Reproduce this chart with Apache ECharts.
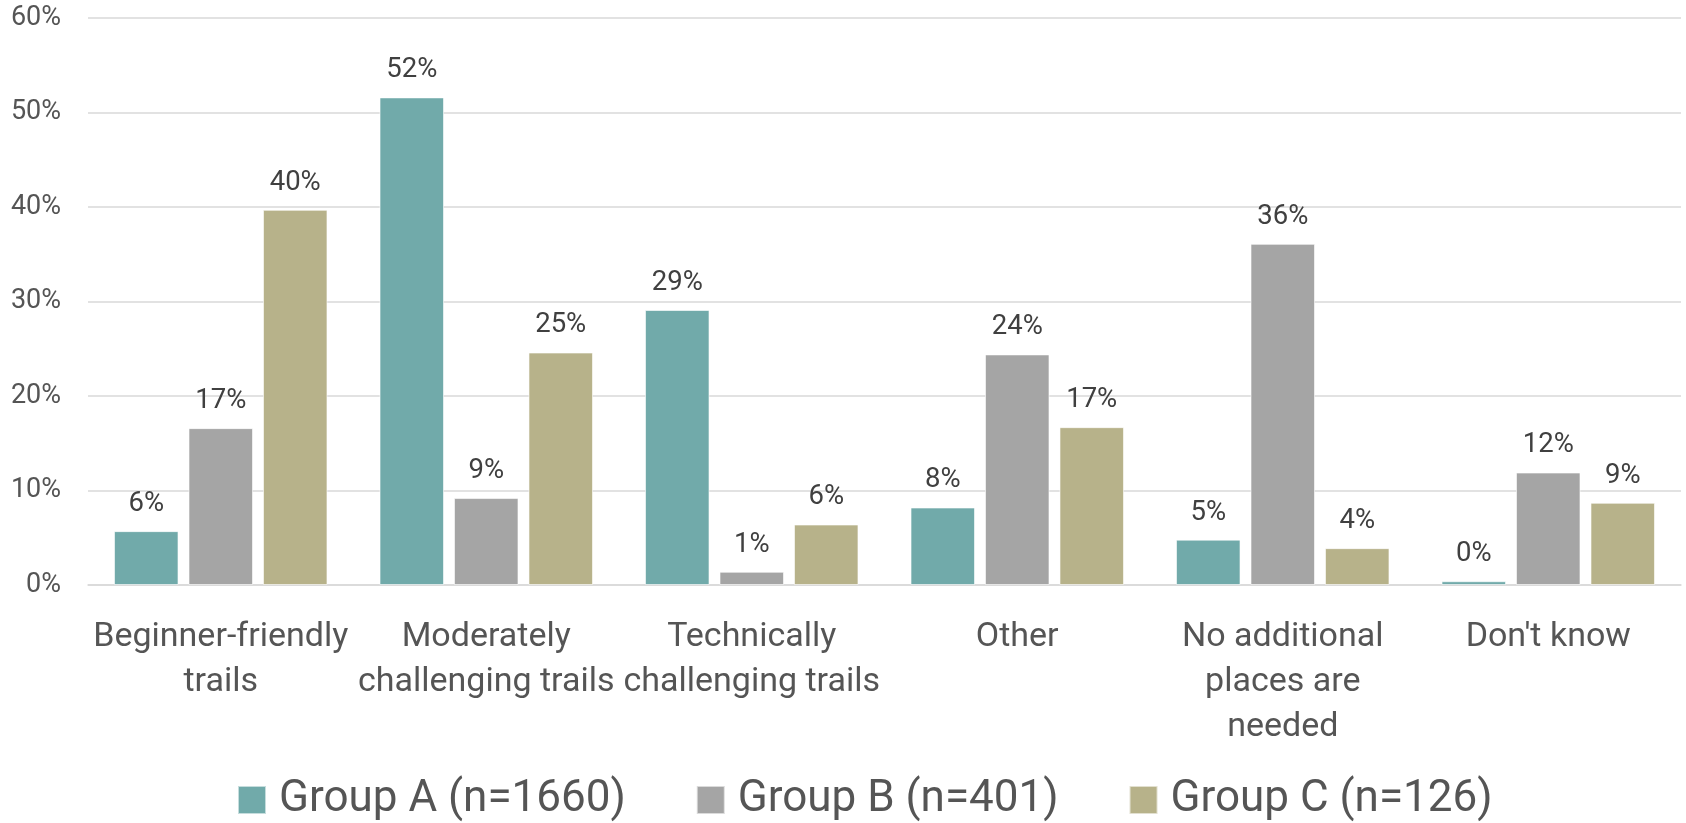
<!DOCTYPE html>
<html>
<head>
<meta charset="utf-8">
<script src="https://cdn.jsdelivr.net/npm/echarts@6/dist/echarts.min.js"></script>
<style>
html,body{margin:0;padding:0;background:#fff;}
#chart{width:1686px;height:823px;}
</style>
</head>
<body>
<div id="chart"></div>
<script>
const categories = [
  "Beginner-friendly\ntrails",
  "Moderately\nchallenging trails",
  "Technically\nchallenging trails",
  "Other",
  "No additional\nplaces are\nneeded",
  "Don't know"
];
const seriesNames = ["Group A (n=1660)", "Group B (n=401)", "Group C (n=126)"];
const groupA = [5.7, 51.6, 29.1, 8.2, 4.8, 0.4];
const groupB = [16.6, 9.2, 1.4, 24.4, 36.1, 11.9];
const groupC = [39.7, 24.6, 6.4, 16.7, 3.9, 8.7];
const yTicks = { min: 0, max: 60, interval: 10 };
const colors = ["#71AAAA", "#A5A5A5", "#B7B28A"];

const FONT = "Roboto";
const chart = echarts.init(document.getElementById('chart'), null, { renderer: 'canvas' });

function mkSeries(name, data, color) {
  return {
    name: name,
    type: 'bar',
    data: data,
    barGap: '15.5%',
    barCategoryGap: '19.6%',
    itemStyle: { color: color, borderColor: 'rgba(255,255,255,0.6)', borderWidth: 1 },
    label: {
      show: true,
      position: 'top',
      distance: 13,
      fontFamily: FONT,
      fontSize: 27.5,
      color: '#404040',
      formatter: p => Math.round(p.value) + '%'
    }
  };
}

chart.setOption({
  animation: false,
  color: colors,
  grid: { left: 88, right: 5, top: 18, bottom: 238, containLabel: false },
  legend: {
    left: 237,
    top: 778,
    padding: 0,
    itemWidth: 28,
    itemHeight: 28,
    itemGap: 70,
    icon: 'rect',
    textStyle: { fontFamily: FONT, fontSize: 44, color: '#555555', padding: [0, 0, 0, 8] },
    data: seriesNames
  },
  xAxis: {
    type: 'category',
    data: categories,
    axisTick: { show: false },
    axisLine: { lineStyle: { color: '#D9D9D9', width: 1.5 } },
    axisLabel: {
      interval: 0,
      margin: 30,
      fontFamily: FONT,
      fontSize: 34,
      lineHeight: 45,
      color: '#555555',
      align: 'center'
    }
  },
  yAxis: {
    type: 'value',
    min: yTicks.min,
    max: yTicks.max,
    interval: yTicks.interval,
    axisLine: { show: false },
    axisTick: { show: false },
    splitLine: { lineStyle: { color: '#D9D9D9', width: 1.5 } },
    axisLabel: {
      margin: 27,
      fontFamily: FONT,
      fontSize: 27,
      color: '#555555',
      formatter: '{value}%'
    }
  },
  series: [
    mkSeries(seriesNames[0], groupA, colors[0]),
    mkSeries(seriesNames[1], groupB, colors[1]),
    mkSeries(seriesNames[2], groupC, colors[2])
  ]
});
</script>
</body>
</html>
